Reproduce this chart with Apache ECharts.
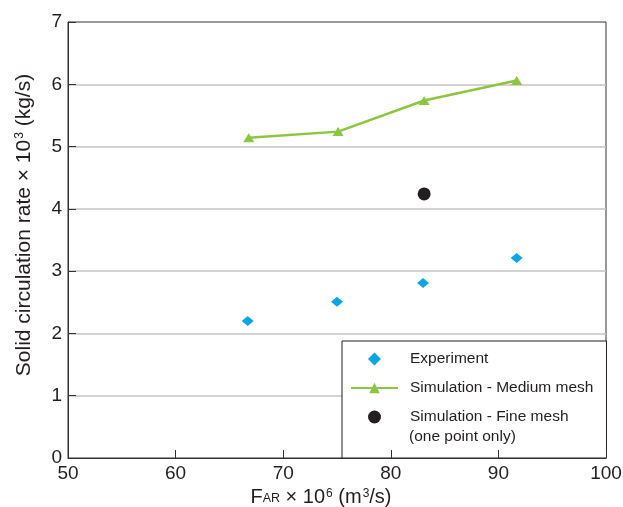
<!DOCTYPE html>
<html>
<head>
<meta charset="utf-8">
<script src="https://cdn.jsdelivr.net/npm/echarts@6/dist/echarts.min.js"></script>
<style>
html,body{margin:0;padding:0;background:#fff;}
#chart{width:623px;height:507px;}
</style>
</head>
<body>
<div id="chart"></div>
<script>
// Data
const experimentX = [66.7, 75.0, 83.0, 91.7];
const experimentY = [2.20, 2.51, 2.81, 3.21];
const mediumX = [66.8, 75.1, 83.1, 91.7];
const mediumY = [5.14, 5.24, 5.74, 6.06];
const fineX = [83.1];
const fineY = [4.24];
const xTicks = [50, 60, 70, 80, 90, 100];
const yTicks = [0, 1, 2, 3, 4, 5, 6, 7];
const seriesNames = ['Experiment', 'Simulation - Medium mesh', 'Simulation - Fine mesh'];
const fineNote = '(one point only)';

const zip = (xs, ys) => xs.map((x, i) => [x, ys[i]]);
const FONT = '"Liberation Sans", Arial, Helvetica, sans-serif';
const TXT = '#231f20';

const chart = echarts.init(document.getElementById('chart'), null, {renderer: 'canvas'});
function richFor(size) {
  return {
    n: {fontSize: size, lineHeight: 20, verticalAlign: 'top', padding: [0, 0, 6, 0], color: TXT, fontFamily: FONT},
    sup: {fontSize: 12, lineHeight: 12, verticalAlign: 'top', padding: [0, 0, 0, 1], color: TXT, fontFamily: FONT},
    sub: {fontSize: 12.5, lineHeight: 12, verticalAlign: 'bottom', padding: [0, 0, 3, 0], color: TXT, fontFamily: FONT}
  };
}
chart.setOption({
  animation: false,
  backgroundColor: '#fff',
  textStyle: {fontFamily: FONT},
  grid: {left: 68, right: 17, top: 22, bottom: 49, show: true, borderColor: '#333', borderWidth: 1,
         backgroundColor: 'transparent', outerBoundsMode: 'none', containLabel: false},
  xAxis: {
    type: 'value', min: xTicks[0], max: xTicks[xTicks.length - 1], interval: 10,
    z: 10,
    axisLine: {show: true, onZero: false, lineStyle: {color: '#333', width: 1}},
    axisTick: {show: true, inside: true, length: 8, lineStyle: {color: '#333', width: 1}},
    axisLabel: {fontSize: 19, color: TXT, margin: 6, fontFamily: FONT},
    splitLine: {show: false},
    name: '{n|F}{sub|AR}{n| × 10}{sup|6}{n| (m}{sup|3}{n|/s)}',
    nameLocation: 'middle', nameGap: 21,
    nameTextStyle: {rich: richFor(20), fontSize: 20, color: TXT, padding: [0, 32, 0, 0]}
  },
  yAxis: {
    type: 'value', min: yTicks[0], max: yTicks[yTicks.length - 1], interval: 1,
    axisLine: {show: true, onZero: false, lineStyle: {color: '#333', width: 1}},
    axisTick: {show: true, inside: true, length: 8, lineStyle: {color: '#333', width: 1}},
    axisLabel: {fontSize: 19, color: TXT, margin: 6, fontFamily: FONT},
    splitLine: {show: true, showMinLine: false, showMaxLine: false, lineStyle: {color: '#c4c4c4', width: 1.5}},
    name: '{n|Solid circulation rate × 10}{sup|3}{n| (kg/s)}',
    nameLocation: 'middle', nameGap: 31,
    nameTextStyle: {rich: richFor(21), fontSize: 21, color: TXT, padding: [0, 0, 0, 30]}
  },
  legend: {
    orient: 'vertical', left: 342, top: 341,
    padding: [9, 13, 32, 8],
    itemWidth: 47, itemHeight: 13, itemGap: 11,
    symbolKeepAspect: true,
    backgroundColor: '#fff', borderColor: '#231f20', borderWidth: 1, borderRadius: 0,
    selectedMode: false,
    textStyle: {fontSize: 15.5, color: TXT, lineHeight: 18, padding: [0, 0, 0, 7], fontFamily: FONT},
    data: [
      {name: seriesNames[0], icon: 'path://M0,-7L7,0L0,7L-7,0Z'},
      {name: seriesNames[1]},
      {name: seriesNames[2], icon: 'path://M0,-5.5A5.5,5.5,0,1,1,0,5.5A5.5,5.5,0,1,1,0,-5.5Z'}
    ]
  },
  graphic: [{
    type: 'text', left: 409, top: 429, z: 100,
    style: {text: fineNote, fontSize: 15.5, fill: TXT, fontFamily: FONT}
  }],
  series: [
    {
      name: seriesNames[0], type: 'scatter', data: zip(experimentX, experimentY),
      symbol: 'diamond', symbolSize: [12, 10],
      itemStyle: {color: '#0aa5e6', opacity: 1}
    },
    {
      name: seriesNames[1], type: 'line', data: zip(mediumX, mediumY),
      symbol: 'triangle', symbolSize: [11, 9], showSymbol: true,
      lineStyle: {color: '#8cc63f', width: 2.5}, itemStyle: {color: '#8cc63f', opacity: 1}
    },
    {
      name: seriesNames[2], type: 'scatter', data: zip(fineX, fineY),
      symbol: 'circle', symbolSize: 13,
      itemStyle: {color: '#231f20', opacity: 1}
    }
  ]
});
</script>
</body>
</html>
